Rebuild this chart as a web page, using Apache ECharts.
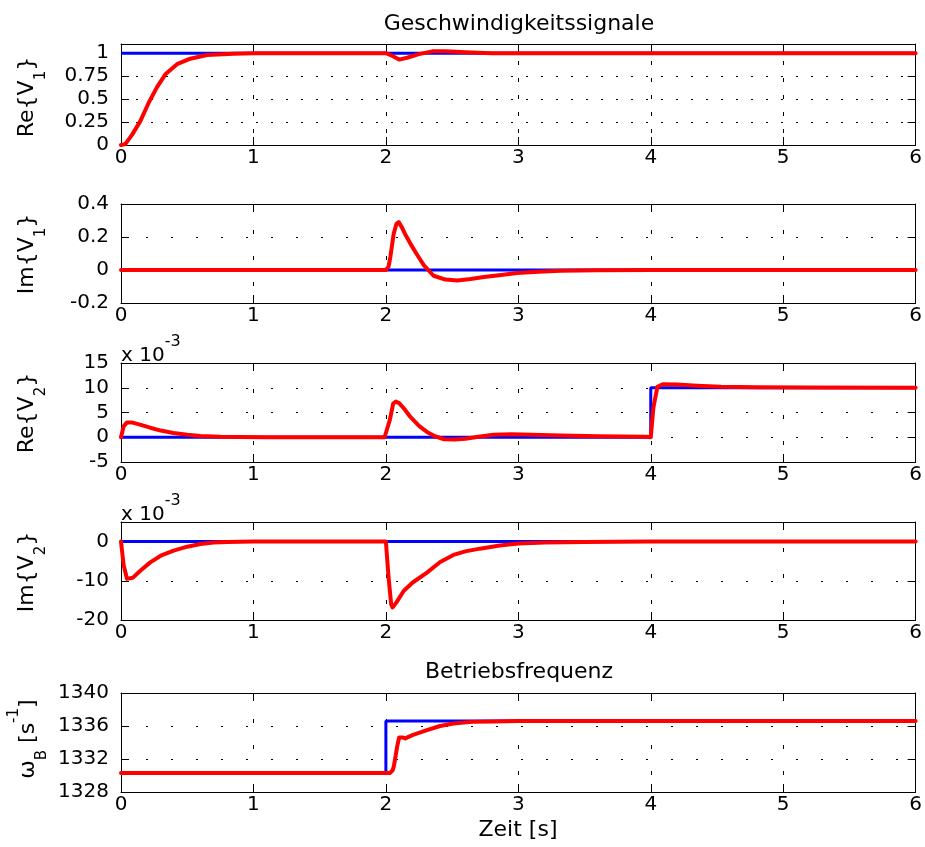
<!DOCTYPE html>
<html><head><meta charset="utf-8">
<script src="https://cdn.jsdelivr.net/npm/echarts@6/dist/echarts.min.js"></script>
<style>html,body{margin:0;padding:0;background:#fff}#c{width:925px;height:847px}</style>
</head><body><div id="c"></div>
<script>
// ---- data ----
const timeTicks = [0, 1, 2, 3, 4, 5, 6];

const reV1Ticks = [0, 0.25, 0.5, 0.75, 1];
const reV1Lim = [0, 1.1];
const reV1Ref = [[0, 1], [6, 1]];
const reV1 = [[0, 0], [0.032, 0.01], [0.083, 0.11], [0.146, 0.26], [0.209, 0.46], [0.272, 0.63], [0.335, 0.77],
  [0.423, 0.88], [0.523, 0.94], [0.65, 0.98], [0.85, 0.995], [1.0, 1.0], [2.0, 1.0], [2.05, 0.97], [2.1, 0.93],
  [2.16, 0.95], [2.25, 0.99], [2.35, 1.02], [2.45, 1.02], [2.6, 1.01], [2.8, 1.0], [6, 1.0]];

const imV1Ticks = [-0.2, 0, 0.2, 0.4];
const imV1Lim = [-0.2, 0.4];
const imV1Ref = [[0, 0], [6, 0]];
const imV1 = [[0, 0], [2.0, 0], [2.02, 0.02], [2.034, 0.08], [2.059, 0.22], [2.08, 0.28], [2.097, 0.29], [2.12, 0.26],
  [2.15, 0.21], [2.185, 0.16], [2.23, 0.10], [2.286, 0.03], [2.36, -0.035], [2.45, -0.058], [2.54, -0.063],
  [2.64, -0.055], [2.74, -0.043], [2.87, -0.03], [2.99, -0.018], [3.15, -0.01], [3.32, -0.005], [3.6, -0.002],
  [4, 0], [6, 0]];

const reV2Ticks = [-5, 0, 5, 10, 15];
const reV2Lim = [-5, 15];
const reV2Ref = [[0, 0], [4, 0], [4, 10], [6, 10]];
const reV2 = [[0, 0], [0.02, 2.2], [0.045, 3.0], [0.08, 3.0], [0.15, 2.5], [0.22, 1.93], [0.3, 1.35], [0.396, 0.87],
  [0.5, 0.5], [0.6, 0.27], [0.75, 0.1], [0.9, 0.03], [1.1, 0], [1.99, 0], [2.0, -0.3], [2.03, 3.5], [2.055, 6.8],
  [2.075, 7.2], [2.1, 6.9], [2.14, 5.7], [2.185, 4.1], [2.25, 2.3], [2.31, 1.07], [2.37, 0.2], [2.44, -0.4],
  [2.52, -0.45], [2.6, -0.3], [2.7, 0.1], [2.81, 0.5], [2.95, 0.6], [3.1, 0.5], [3.32, 0.35], [3.6, 0.2],
  [3.97, 0.1], [4.0, 0], [4.02, 6], [4.05, 10.2], [4.09, 10.7], [4.2, 10.65], [4.35, 10.4], [4.53, 10.2],
  [4.8, 10.1], [5.2, 10.05], [6, 10.0]];

const imV2Ticks = [-20, -10, 0];
const imV2Lim = [-20, 5];
const imV2Ref = [[0, 0], [6, 0]];
const imV2 = [[0, 0], [0.02, -6], [0.045, -9.5], [0.058, -9.9], [0.09, -9.2], [0.15, -7.3], [0.221, -5.3],
  [0.3, -3.6], [0.397, -2.3], [0.5, -1.3], [0.6, -0.6], [0.7, -0.25], [0.8, -0.1], [1.0, 0], [2.0, 0],
  [2.02, -9], [2.04, -16], [2.05, -16.8], [2.08, -15.5], [2.134, -12.6], [2.2, -10.5], [2.31, -7.9], [2.41, -5.2],
  [2.51, -3.4], [2.6, -2.5], [2.71, -1.8], [2.86, -1.0], [3.0, -0.5], [3.2, -0.25], [3.5, -0.1], [4, 0], [6, 0]];

const omegaTicks = [1328, 1332, 1336, 1340];
const omegaLim = [1328, 1340];
const omegaRef = [[0, 1330.3], [2, 1330.3], [2, 1336.6], [6, 1336.6]];
const omega = [[0, 1330.3], [2.03, 1330.3], [2.05, 1330.6], [2.06, 1331.1], [2.075, 1332.5], [2.085, 1333.5],
  [2.1, 1334.6], [2.11, 1334.8], [2.13, 1334.6], [2.147, 1334.5], [2.2, 1334.9], [2.31, 1335.5], [2.41, 1336.0],
  [2.51, 1336.3], [2.65, 1336.5], [2.81, 1336.55], [3.0, 1336.6], [6, 1336.6]];

const titleTop = 'Geschwindigkeitssignale';
const titleBottom = 'Betriebsfrequenz';
const xName = 'Zeit [s]';
const scaleNote = 'x 10{p|-3}';

// ---- layout ----
const FONT = 'DejaVu Sans';
const panels = [
  { label: 'Re{V{s|1}}', ticks: reV1Ticks, lim: reV1Lim, ref: reV1Ref, sig: reV1 },
  { label: 'Im{V{s|1}}', ticks: imV1Ticks, lim: imV1Lim, ref: imV1Ref, sig: imV1 },
  { label: 'Re{V{s|2}}', ticks: reV2Ticks, lim: reV2Lim, ref: reV2Ref, sig: reV2 },
  { label: 'Im{V{s|2}}', ticks: imV2Ticks, lim: imV2Lim, ref: imV2Ref, sig: imV2 },
  { label: 'ω{s|B} [s{p|-1}]', ticks: omegaTicks, lim: omegaLim, ref: omegaRef, sig: omega }
];
const tops = [44, 204, 363, 522, 693];
const hts = [101, 99, 99, 98, 99];
const L = 121, R = 9;
const hDash = [[2, 13], [2, 23], [2, 23], [2, 23], [2, 23]];
const vDash = [[4, 13], [4, 22], [4, 22], [4, 22], [4, 22]];
const labelY = [97, 254, 413, 572, 739];
const labelX = [27, 27, 27, 27, 28.5];

const grid = [], xAxis = [], yAxis = [], series = [], graphic = [];
const black = '#000';
const richSub = {
  s: { fontSize: 15, fontFamily: FONT, padding: [28, 0, 0, 0], verticalAlign: 'middle' },
  p: { fontSize: 15, fontFamily: FONT, padding: [0, 0, 28, 0], verticalAlign: 'middle' }
};

panels.forEach((p, i) => {
  grid.push({ left: L, right: R, top: tops[i], height: hts[i], containLabel: false });
  const tickStep = p.ticks[1] - p.ticks[0];
  const xInt = timeTicks[1] - timeTicks[0];
  xAxis.push({
    type: 'value', gridIndex: i, position: 'bottom', min: timeTicks[0], max: timeTicks[timeTicks.length - 1], interval: xInt,
    axisLine: { show: true, onZero: false, lineStyle: { color: black, width: 1 } },
    axisTick: { show: true, inside: true, length: 8, lineStyle: { color: black } },
    axisLabel: { show: true, margin: 3, color: black, fontSize: 20, fontFamily: FONT,
      formatter: v => timeTicks.some(t => Math.abs(t - v) < 1e-9) ? String(v) : '' },
    splitLine: { show: true, lineStyle: { color: black, width: 1, type: vDash[i] } }
  });
  xAxis.push({
    type: 'value', gridIndex: i, position: 'top', min: timeTicks[0], max: timeTicks[timeTicks.length - 1], interval: xInt,
    axisLine: { show: true, onZero: false, lineStyle: { color: black, width: 1 } },
    axisTick: { show: true, inside: true, length: 8, lineStyle: { color: black } },
    axisLabel: { show: false }, splitLine: { show: false }
  });
  yAxis.push({
    type: 'value', gridIndex: i, position: 'left', min: p.lim[0], max: p.lim[1], interval: tickStep,
    axisLine: { show: true, onZero: false, lineStyle: { color: black, width: 1 } },
    axisTick: { show: true, inside: true, length: 8, lineStyle: { color: black } },
    axisLabel: { show: true, margin: 12, color: black, fontSize: 20, fontFamily: FONT, showMaxLabel: true,
      formatter: v => { const t = p.ticks.find(t => Math.abs(t - v) < 1e-9 * Math.max(1, Math.abs(t))); return t === undefined ? '' : String(t); } },
    splitLine: { show: true, lineStyle: { color: black, width: 1, type: hDash[i] } }
  });
  yAxis.push({
    type: 'value', gridIndex: i, position: 'right', min: p.lim[0], max: p.lim[1], interval: tickStep,
    axisLine: { show: true, onZero: false, lineStyle: { color: black, width: 1 } },
    axisTick: { show: true, inside: true, length: 8, lineStyle: { color: black } },
    axisLabel: { show: false }, splitLine: { show: false }
  });
  series.push({
    type: 'line', xAxisIndex: 2 * i, yAxisIndex: 2 * i, data: p.ref, showSymbol: false, symbol: 'none',
    lineStyle: { color: '#0000ff', width: 3 }, z: 3, silent: true
  });
  series.push({
    type: 'line', xAxisIndex: 2 * i, yAxisIndex: 2 * i, data: p.sig, showSymbol: false, symbol: 'none',
    smooth: false,
    lineStyle: { color: '#ff0000', width: 4, join: 'round', cap: 'round' }, z: 4, silent: true
  });
  graphic.push({
    type: 'text', x: labelX[i], y: labelY[i], rotation: Math.PI / 2,
    style: { text: p.label, x: 0, y: 0, align: 'center', verticalAlign: 'middle', fontSize: 22, fontFamily: FONT, fill: black, rich: richSub }
  });
});

graphic.push({ type: 'text', x: 519, y: 24, style: { text: titleTop, align: 'center', verticalAlign: 'middle', fontSize: 22, fontFamily: FONT, fill: black } });
graphic.push({ type: 'text', x: 519, y: 672, style: { text: titleBottom, align: 'center', verticalAlign: 'middle', fontSize: 22, fontFamily: FONT, fill: black } });
graphic.push({ type: 'text', x: 518, y: 830, style: { text: xName, align: 'center', verticalAlign: 'middle', fontSize: 22, fontFamily: FONT, fill: black } });
[356, 515].forEach(yy => graphic.push({
  type: 'text', x: 121, y: yy,
  style: { text: scaleNote, align: 'left', verticalAlign: 'middle', fontSize: 20, fontFamily: FONT, fill: black,
    rich: { p: { fontSize: 16, fontFamily: FONT, padding: [0, 0, 28, 0], verticalAlign: 'middle' } } }
}));

const chart = echarts.init(document.getElementById('c'), null, { renderer: 'canvas' });
chart.setOption({ animation: false, backgroundColor: '#fff', grid, xAxis, yAxis, series, graphic });
</script></body></html>
